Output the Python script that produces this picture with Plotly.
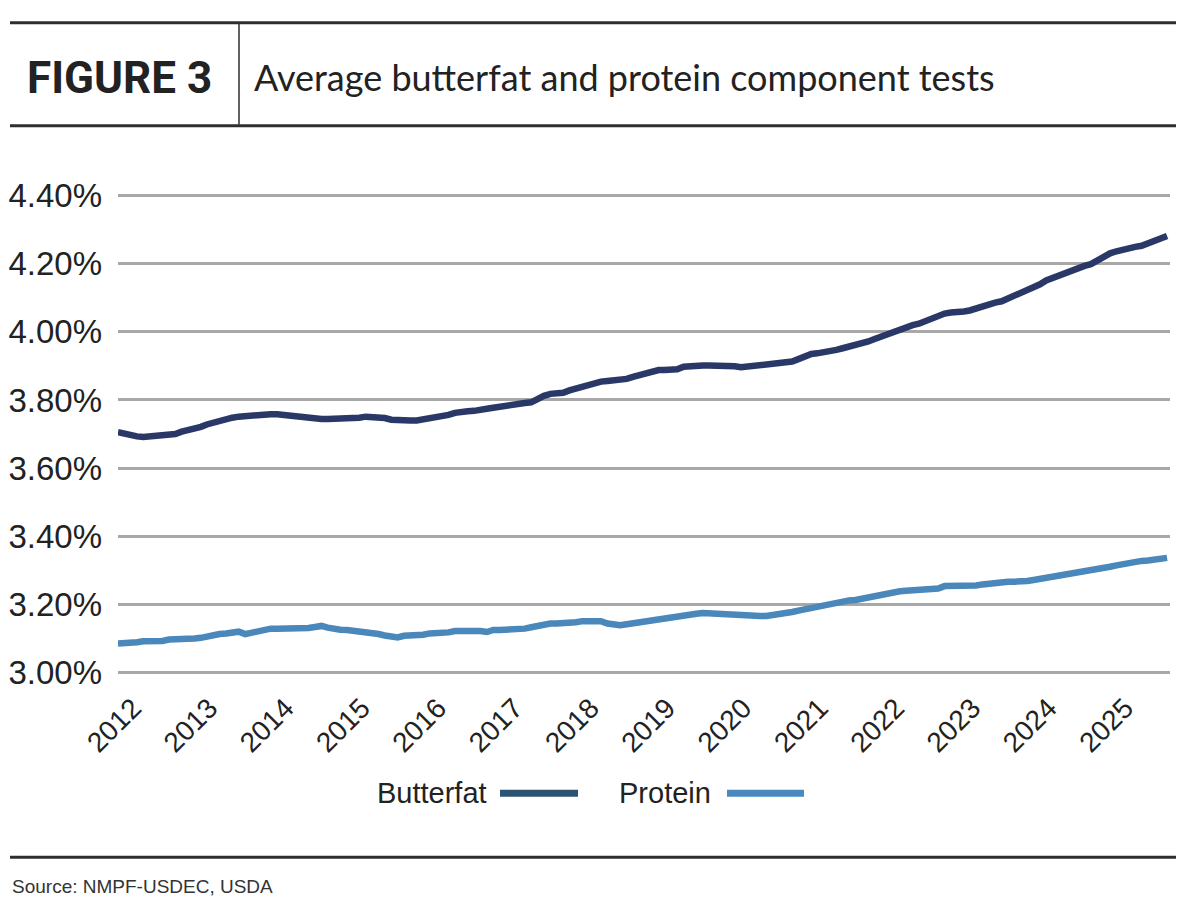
import plotly.graph_objects as go

# ---- data (monthly, Jan 2012 - Oct 2025), percent ----
years = list(range(2012, 2026))
tick_labels = [str(y) for y in years]

butterfat_by_year = {
    2012: [3.705, 3.700, 3.697, 3.693, 3.691, 3.692, 3.694, 3.694, 3.695, 3.700, 3.707, 3.710],
    2013: [3.715, 3.721, 3.728, 3.734, 3.740, 3.744, 3.748, 3.751, 3.753, 3.754, 3.754, 3.755],
    2014: [3.758, 3.758, 3.756, 3.752, 3.748, 3.746, 3.744, 3.744, 3.744, 3.744, 3.744, 3.744],
    2015: [3.744, 3.745, 3.748, 3.751, 3.751, 3.751, 3.747, 3.742, 3.740, 3.740, 3.740, 3.740],
    2016: [3.743, 3.745, 3.746, 3.749, 3.756, 3.762, 3.766, 3.767, 3.768, 3.769, 3.774, 3.777],
    2017: [3.780, 3.785, 3.789, 3.790, 3.791, 3.793, 3.803, 3.812, 3.818, 3.820, 3.821, 3.828],
    2018: [3.834, 3.838, 3.845, 3.852, 3.854, 3.856, 3.857, 3.857, 3.862, 3.868, 3.874, 3.879],
    2019: [3.884, 3.888, 3.888, 3.888, 3.890, 3.898, 3.900, 3.901, 3.901, 3.901, 3.901, 3.901],
    2020: [3.901, 3.899, 3.896, 3.898, 3.900, 3.902, 3.904, 3.906, 3.908, 3.910, 3.913, 3.920],
    2021: [3.928, 3.935, 3.937, 3.939, 3.942, 3.947, 3.952, 3.956, 3.960, 3.965, 3.972, 3.979],
    2022: [3.986, 3.994, 4.002, 4.008, 4.016, 4.020, 4.024, 4.032, 4.042, 4.050, 4.054, 4.057],
    2023: [4.057, 4.060, 4.063, 4.070, 4.077, 4.082, 4.086, 4.090, 4.098, 4.108, 4.116, 4.122],
    2024: [4.128, 4.140, 4.151, 4.159, 4.167, 4.174, 4.181, 4.188, 4.194, 4.199, 4.210, 4.221],
    2025: [4.231, 4.237, 4.242, 4.246, 4.250, 4.253, 4.261, 4.268, 4.275, 4.282],
}

protein_by_year = {
    2012: [3.084, 3.084, 3.084, 3.088, 3.091, 3.091, 3.092, 3.092, 3.096, 3.096, 3.097, 3.097],
    2013: [3.099, 3.101, 3.106, 3.109, 3.112, 3.114, 3.116, 3.119, 3.112, 3.116, 3.121, 3.124],
    2014: [3.128, 3.128, 3.128, 3.128, 3.128, 3.128, 3.130, 3.133, 3.136, 3.131, 3.126, 3.125],
    2015: [3.124, 3.122, 3.121, 3.118, 3.115, 3.112, 3.108, 3.105, 3.102, 3.107, 3.107, 3.107],
    2016: [3.110, 3.114, 3.114, 3.114, 3.117, 3.121, 3.121, 3.121, 3.124, 3.121, 3.118, 3.124],
    2017: [3.124, 3.124, 3.128, 3.128, 3.128, 3.132, 3.136, 3.140, 3.143, 3.143, 3.143, 3.143],
    2018: [3.147, 3.150, 3.150, 3.150, 3.150, 3.143, 3.141, 3.138, 3.141, 3.144, 3.147, 3.151],
    2019: [3.152, 3.155, 3.158, 3.162, 3.166, 3.170, 3.171, 3.172, 3.174, 3.173, 3.171, 3.171],
    2020: [3.170, 3.165, 3.165, 3.165, 3.165, 3.165, 3.165, 3.167, 3.171, 3.173, 3.177, 3.181],
    2021: [3.185, 3.189, 3.193, 3.197, 3.201, 3.205, 3.209, 3.211, 3.212, 3.216, 3.220, 3.224],
    2022: [3.228, 3.231, 3.235, 3.238, 3.239, 3.240, 3.241, 3.243, 3.245, 3.246, 3.253, 3.253],
    2023: [3.253, 3.253, 3.253, 3.255, 3.258, 3.261, 3.264, 3.266, 3.266, 3.266, 3.266, 3.268],
    2024: [3.271, 3.274, 3.277, 3.280, 3.282, 3.285, 3.289, 3.292, 3.295, 3.299, 3.303, 3.307],
    2025: [3.310, 3.314, 3.318, 3.322, 3.326, 3.327, 3.328, 3.331, 3.333, 3.336],
}

y_ticks = [3.00, 3.20, 3.40, 3.60, 3.80, 4.00, 4.20, 4.40]
y_tick_labels = ["3.00%", "3.20%", "3.40%", "3.60%", "3.80%", "4.00%", "4.20%", "4.40%"]

title_left = "FIGURE 3"
title_right = "Average butterfat and protein component tests"
source_text = "Source: NMPF-USDEC, USDA"
series_names = ["Butterfat", "Protein"]

# ---- build series ----
def flatten(d):
    xs, ys = [], []
    for yr in sorted(d):
        for i, v in enumerate(d[yr]):
            xs.append(f"{yr}-{i+1:02d}-01")
            ys.append(v)
    return xs, ys

bf_x, bf_y = flatten(butterfat_by_year)
pr_x, pr_y = flatten(protein_by_year)

# ---- layout geometry ----
W, H = 1200, 904
ML, MR, MT, MB = 118, 30, 189.2, 225.2
PW = W - ML - MR
PH = H - MT - MB

def px(xp):
    return (xp - ML) / PW

def py(yp):
    return (H - MB - yp) / PH

BF_COLOR = "#2a3867"
PR_COLOR = "#4a87ba"
BF_LEG = "#2c5472"
PR_LEG = "#4a89bd"
TXT = "#222222"
SANS = "Liberation Sans, Arial, sans-serif"

fig = go.Figure()
fig.add_trace(go.Scatter(x=bf_x, y=bf_y, mode="lines", name=series_names[0],
                         line=dict(color=BF_COLOR, width=6.5), showlegend=False))
fig.add_trace(go.Scatter(x=pr_x, y=pr_y, mode="lines", name=series_names[1],
                         line=dict(color=PR_COLOR, width=6.5), showlegend=False))

shapes = []
def hline(x0, x1, y, w, c="#2e2e2e"):
    shapes.append(dict(type="line", xref="paper", yref="paper",
                       x0=px(x0), x1=px(x1), y0=py(y), y1=py(y),
                       line=dict(color=c, width=w)))

hline(10, 1176, 23, 3)
hline(10, 1176, 126, 3)
hline(10, 1176, 857, 3)
shapes.append(dict(type="line", xref="paper", yref="paper",
                   x0=px(239), x1=px(239), y0=py(24), y1=py(125),
                   line=dict(color="#2e2e2e", width=1.5)))
hline(500, 578, 793, 7, BF_LEG)
hline(727, 804, 793, 7, PR_LEG)

annotations = [
    dict(text=f"<b>{title_left}</b>", x=px(25), y=py(78), xref="paper", yref="paper",
         xanchor="left", yanchor="middle", showarrow=False,
         font=dict(family="Roboto", size=44, color=TXT)),
    dict(text=title_right, x=px(252), y=py(77), xref="paper", yref="paper",
         xanchor="left", yanchor="middle", showarrow=False,
         font=dict(family="Lato", size=36, color=TXT)),
    dict(text=series_names[0], x=px(489), y=py(793), xref="paper", yref="paper",
         xanchor="right", yanchor="middle", showarrow=False,
         font=dict(family=SANS, size=29, color=TXT)),
    dict(text=series_names[1], x=px(713), y=py(793), xref="paper", yref="paper",
         xanchor="right", yanchor="middle", showarrow=False,
         font=dict(family=SANS, size=29, color=TXT)),
    dict(text=source_text, x=px(10), y=py(886), xref="paper", yref="paper",
         xanchor="left", yanchor="middle", showarrow=False,
         font=dict(family=SANS, size=19, color="#333333")),
]

fig.update_layout(
    width=W, height=H,
    margin=dict(l=ML, r=MR, t=MT, b=MB, pad=0),
    paper_bgcolor="white", plot_bgcolor="white",
    shapes=shapes, annotations=annotations,
    showlegend=False,
    xaxis=dict(
        type="date", automargin=False,
        range=["2012-01-01", "2025-10-15"],
        tickvals=[f"{y}-01-01" for y in years],
        ticktext=tick_labels,
        tickangle=-45,
        ticklabelshift=15, ticklabelstandoff=6,
        showgrid=False, zeroline=False, showline=False, ticks="",
        tickfont=dict(family=SANS, size=28, color=TXT),
    ),
    yaxis=dict(
        automargin=False,
        range=[2.98, 4.42],
        tickvals=y_ticks, ticktext=y_tick_labels,
        showgrid=True, gridcolor="#a8a8a8", gridwidth=3,
        zeroline=False, showline=False, ticks="",
        ticklabelstandoff=15,
        tickfont=dict(family=SANS, size=33, color=TXT),
    ),
)

fig.write_html("out.html")
